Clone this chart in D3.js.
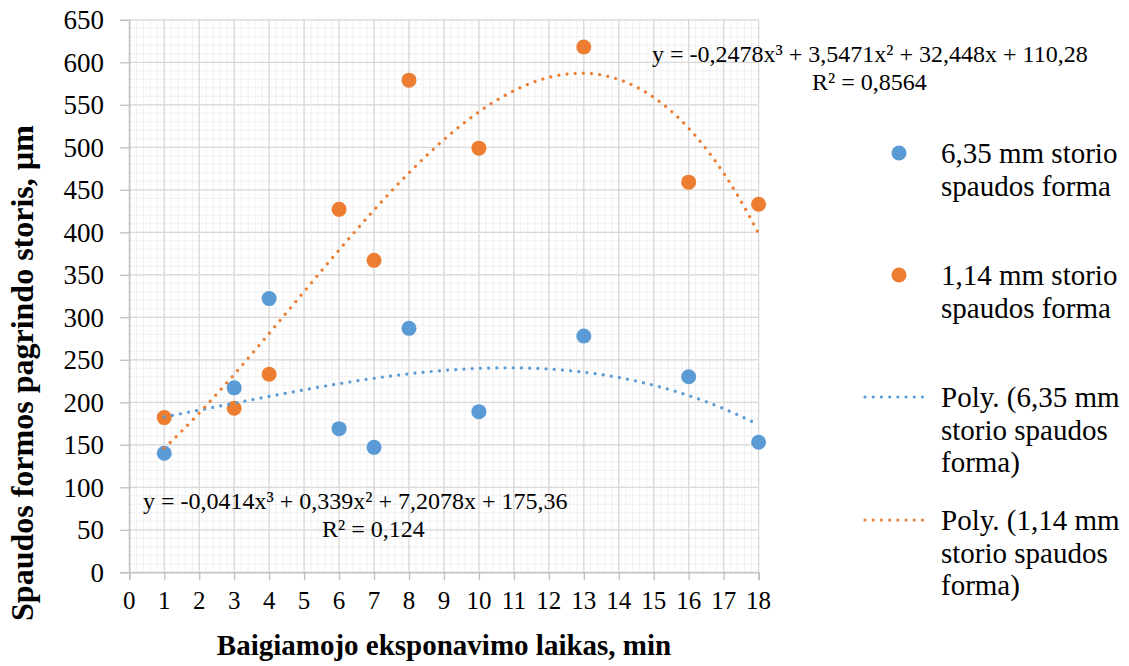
<!DOCTYPE html>
<html>
<head>
<meta charset="utf-8">
<script src="https://cdn.jsdelivr.net/npm/d3@7"></script>
<style>
  body { margin: 0; background: #fff; }
</style>
</head>
<body>
<div id="chart"></div>
<script>
// data
const xValues = [1, 3, 4, 6, 7, 8, 10, 13, 16, 18];
const thin635 = [140, 217, 322, 169, 147, 287, 189, 278, 230, 153];
const thin114 = [182, 193, 233, 427, 367, 579, 499, 618, 459, 433];

// trendline coefficients as printed on the chart (x^3, x^2, x, const)
const poly635 = [-0.0414, 0.339, 7.2078, 175.36];
const poly114 = [-0.2478, 3.5471, 32.448, 110.28];

const xTicks = d3.range(0, 19);
const yTicks = d3.range(0, 651, 50);

const blue = "#5B9BD5", orange = "#ED7D31";
const serif = "'Liberation Serif', 'Times New Roman', serif";

const width = 1129, height = 666;
const svg = d3.select("#chart").append("svg")
    .attr("width", width)
    .attr("height", height);

function label(g, px, py, str, size, anchor) {
    return g.append("text")
        .attr("x", px).attr("y", py)
        .attr("text-anchor", anchor || "start")
        .style("font-family", serif)
        .style("font-size", size + "px")
        .attr("fill", "#000")
        .text(str);
}

const x = d3.scaleLinear().domain([0, 18]).range([129.3, 758.6]);
const y = d3.scaleLinear().domain([0, 650]).range([572.3, 19.8]);

// minor grid
const grid = svg.append("g");
grid.selectAll(".vminor")
    .data(d3.range(0, 18.01, 0.2))
    .join("line")
    .attr("x1", d => x(d)).attr("x2", d => x(d))
    .attr("y1", y(0)).attr("y2", y(650))
    .attr("stroke", "#F0F0F0").attr("stroke-width", 1);
grid.selectAll(".hminor")
    .data(d3.range(0, 651, 10))
    .join("line")
    .attr("x1", x(0)).attr("x2", x(18))
    .attr("y1", d => y(d)).attr("y2", d => y(d))
    .attr("stroke", "#F0F0F0").attr("stroke-width", 1);

// major grid
grid.selectAll(".vmajor")
    .data(xTicks)
    .join("line")
    .attr("x1", d => x(d)).attr("x2", d => x(d))
    .attr("y1", y(0)).attr("y2", y(650))
    .attr("stroke", "#D9D9D9").attr("stroke-width", 1.3);
grid.selectAll(".hmajor")
    .data(yTicks)
    .join("line")
    .attr("x1", x(0)).attr("x2", x(18))
    .attr("y1", d => y(d)).attr("y2", d => y(d))
    .attr("stroke", "#D9D9D9").attr("stroke-width", 1.3);

// axes (lines and ticks), labels drawn below from the same scales
svg.append("g")
    .attr("transform", `translate(0,${y(0)})`)
    .call(d3.axisBottom(x).tickValues(xTicks).tickSize(8).tickFormat(() => ""));
svg.append("g")
    .attr("transform", `translate(${x(0)},0)`)
    .call(d3.axisLeft(y).tickValues(yTicks).tickSize(9).tickFormat(() => ""));
svg.selectAll(".domain, .tick line")
    .attr("stroke", "#BFBFBF").attr("stroke-width", 1.3);

const tickLabels = svg.append("g");
xTicks.forEach(t => label(tickLabels, x(t), 608.5, String(t), 25, "middle"));
yTicks.forEach(t => label(tickLabels, 104, y(t) + 9.3, String(t), 27, "end"));

// markers
const pts = (vals) => xValues.map((v, i) => ({x: v, y: vals[i]}));
svg.append("g").selectAll("circle")
    .data(pts(thin635))
    .join("circle")
    .attr("cx", d => x(d.x)).attr("cy", d => y(d.y)).attr("r", 7.5)
    .attr("fill", blue);
svg.append("g").selectAll("circle")
    .data(pts(thin114))
    .join("circle")
    .attr("cx", d => x(d.x)).attr("cy", d => y(d.y)).attr("r", 7.5)
    .attr("fill", orange);

// trendlines
const evalPoly = (c, t) => c[0] * t * t * t + c[1] * t * t + c[2] * t + c[3];
const trendX = d3.range(1, 18.001, 0.1);
const line = d3.line().x(d => x(d[0])).y(d => y(d[1]));
[[poly635, blue], [poly114, orange]].forEach(([c, col]) => {
    svg.append("path")
        .datum(trendX.map(t => [t, evalPoly(c, t)]))
        .attr("d", line)
        .attr("fill", "none")
        .attr("stroke", col)
        .attr("stroke-width", 3.2)
        .attr("stroke-linecap", "round")
        .attr("stroke-dasharray", "0.01 8.2");
});

// equations
const eq = svg.append("g");
label(eq, 143, 509, "y = -0,0414x³ + 0,339x² + 7,2078x + 175,36", 24);
label(eq, 322, 537, "R² = 0,124", 24);
label(eq, 652, 62, "y = -0,2478x³ + 3,5471x² + 32,448x + 110,28", 24);
label(eq, 812, 90, "R² = 0,8564", 24);

// legend
const legend = svg.append("g");
const textX = 941;
const addLines = (lines, y0) => {
    lines.forEach((s, i) => label(legend, textX, y0 + i * 32.5, s, 29));
};
legend.append("circle").attr("cx", 899).attr("cy", 153).attr("r", 7.5).attr("fill", blue);
addLines(["6,35 mm storio", "spaudos forma"], 163);
legend.append("circle").attr("cx", 899).attr("cy", 275).attr("r", 7.5).attr("fill", orange);
addLines(["1,14 mm storio", "spaudos forma"], 285);
legend.append("line").attr("x1", 865).attr("x2", 926).attr("y1", 397).attr("y2", 397)
    .attr("stroke", blue).attr("stroke-width", 3.2).attr("stroke-linecap", "round").attr("stroke-dasharray", "0.01 8.2");
addLines(["Poly. (6,35 mm", "storio spaudos", "forma)"], 407);
legend.append("line").attr("x1", 865).attr("x2", 926).attr("y1", 520).attr("y2", 520)
    .attr("stroke", orange).attr("stroke-width", 3.2).attr("stroke-linecap", "round").attr("stroke-dasharray", "0.01 8.2");
addLines(["Poly. (1,14 mm", "storio spaudos", "forma)"], 530);

// axis titles
svg.append("text")
    .attr("x", 444).attr("y", 655)
    .attr("text-anchor", "middle")
    .style("font-family", serif)
    .style("font-size", "29px").style("font-weight", "bold")
    .text("Baigiamojo eksponavimo laikas, min");
svg.append("text")
    .attr("transform", "translate(33,373) rotate(-90)")
    .attr("text-anchor", "middle")
    .style("font-family", serif)
    .style("font-size", "32px").style("font-weight", "bold")
    .text("Spaudos formos pagrindo storis, µm");
</script>
</body>
</html>
